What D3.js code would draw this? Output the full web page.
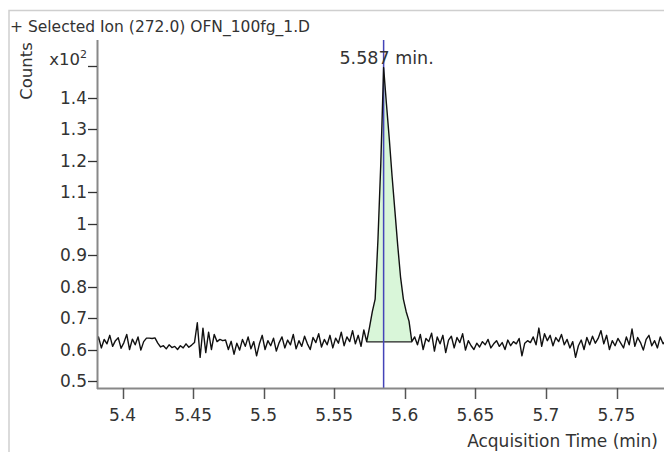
<!DOCTYPE html>
<html>
<head>
<meta charset="utf-8">
<script src="https://cdn.jsdelivr.net/npm/d3@7"></script>
<style>
  body { margin: 0; background: #fff; }
  text { font-family: "DejaVu Sans", Verdana, sans-serif; fill: #333; }
</style>
</head>
<body>
<script>
/* global d3 */

// Chromatogram: EIC 272.0, counts in units of 10^2
var title = '+ Selected Ion (272.0) OFN_100fg_1.D';
var scanStart = 5.379;   // min
var scanStep = 0.002;    // min between scans

var counts = [
  0.628, 0.612, 0.640, 0.605, 0.632, 0.618, 0.645, 0.610, 0.628, 0.637,
  0.604, 0.622, 0.648, 0.600, 0.633, 0.615, 0.640, 0.598, 0.625, 0.636,
  0.636, 0.635, 0.637, 0.620,
  0.608, 0.612, 0.602, 0.615, 0.606, 0.610, 0.600, 0.612, 0.605, 0.618,
  0.607, 0.614, 0.622,
  0.685, 0.575, 0.668, 0.590, 0.655, 0.600, 0.648, 0.625, 0.632,
  0.628, 0.630, 0.600, 0.626, 0.585,
  0.620, 0.598, 0.632, 0.610, 0.640, 0.602, 0.625, 0.580, 0.618, 0.645,
  0.600, 0.628, 0.612, 0.636, 0.595, 0.622, 0.640, 0.605, 0.630, 0.615,
  0.648, 0.602,
  0.628, 0.610, 0.642, 0.618, 0.600, 0.638, 0.622, 0.650, 0.608, 0.632,
  0.615, 0.645, 0.605, 0.636, 0.620, 0.655, 0.612, 0.640, 0.625, 0.660,
  0.618, 0.645, 0.610, 0.662,
  // peak
  0.625, 0.670, 0.720, 0.760, 0.950, 1.190, 1.495, 1.380, 1.270, 1.150,
  1.040, 0.930, 0.830, 0.760, 0.720, 0.690, 0.625,
  // after peak
  0.640, 0.615, 0.648, 0.600, 0.635, 0.625, 0.652, 0.595, 0.640, 0.618,
  0.645, 0.590, 0.630, 0.642, 0.605, 0.638, 0.622, 0.650, 0.598, 0.628,
  0.612, 0.600, 0.620, 0.608, 0.625, 0.615, 0.632, 0.605, 0.618, 0.628,
  0.610, 0.622, 0.600, 0.630, 0.612, 0.625, 0.618, 0.635, 0.580, 0.620,
  0.628,
  0.622, 0.640, 0.615, 0.668, 0.610, 0.650, 0.628, 0.645, 0.612, 0.638,
  0.625, 0.648, 0.615, 0.632, 0.605, 0.625,
  0.575, 0.612, 0.630, 0.600, 0.638, 0.615, 0.642, 0.620, 0.635, 0.660,
  0.618, 0.645, 0.600, 0.628, 0.612, 0.635,
  0.620, 0.605, 0.640, 0.615, 0.665, 0.610, 0.638, 0.622, 0.598, 0.632,
  0.645, 0.612, 0.628, 0.605, 0.640, 0.618, 0.630, 0.622
];

var peakLabel = '5.587 min.';
var integStart = 5.573, integEnd = 5.605, integBase = 0.624;

var xTicks = [5.4, 5.45, 5.5, 5.55, 5.6, 5.65, 5.7, 5.75];
var xTickLabels = ['5.4', '5.45', '5.5', '5.55', '5.6', '5.65', '5.7', '5.75'];
var yTicks = [0.5, 0.6, 0.7, 0.8, 0.9, 1.0, 1.1, 1.2, 1.3, 1.4, 1.5];
var yTickLabels = ['0.5', '0.6', '0.7', '0.8', '0.9', '1', '1.1', '1.2', '1.3', '1.4', ''];

var W = 664, H = 452;
var plot = {left: 97, right: 664, top: 40, bottom: 388};

var points = counts.map(function(c, i){ return {t: scanStart + i * scanStep, c: c}; });
var apex = points[d3.maxIndex(points, function(d){ return d.c; })];

var x = d3.scaleLinear().domain([5.4, 5.75]).range([122.5, 616.5]);
var y = d3.scaleLinear().domain([0.5, 1.5]).range([381, 66]);

var svg = d3.select('body').append('svg')
            .attr('width', W)
            .attr('height', H);

// outer frame (top + left)
svg.append('path')
  .attr('d', 'M9,' + H + 'V10.5H' + W)
  .style('fill', 'none')
  .style('stroke', '#cfcfcf')
  .style('stroke-width', 1.5);

svg.append('text')
  .attr('x', 10)
  .attr('y', 32)
  .style('font-size', '15.5px')
  .text(title);

svg.append('defs').append('clipPath')
  .attr('id', 'clip')
  .append('rect')
    .attr('x', plot.left)
    .attr('y', plot.top)
    .attr('width', plot.right - plot.left)
    .attr('height', plot.bottom - plot.top);

var g = svg.append('g').attr('clip-path', 'url(#clip)');

// integrated area
var peakPts = points.filter(function(d){ return d.t >= integStart - 1e-6 && d.t <= integEnd + 1e-6; });

g.append('path')
  .datum(peakPts)
  .attr('d', d3.area()
    .x(function(d){ return x(d.t); })
    .y0(y(integBase))
    .y1(function(d){ return y(d.c); }))
  .style('fill', '#d9f6d9')
  .style('stroke', 'none');

g.append('line')
  .attr('x1', x(integStart))
  .attr('x2', x(integEnd))
  .attr('y1', y(integBase))
  .attr('y2', y(integBase))
  .style('stroke', '#222')
  .style('stroke-width', 1.3);

// retention time marker
g.append('line')
  .attr('x1', x(apex.t))
  .attr('x2', x(apex.t))
  .attr('y1', plot.top)
  .attr('y2', plot.bottom)
  .style('stroke', '#4444b8')
  .style('stroke-width', 1.5);

// trace
g.append('path')
  .datum(points)
  .attr('d', d3.line()
    .x(function(d){ return x(d.t); })
    .y(function(d){ return y(d.c); }))
  .style('fill', 'none')
  .style('stroke', '#111')
  .style('stroke-width', 1.4)
  .style('stroke-linejoin', 'round');

svg.append('text')
  .attr('x', x(apex.t) + 3)
  .attr('y', 64)
  .style('font-size', '17.5px')
  .style('text-anchor', 'middle')
  .text(peakLabel);

// y axis
var yAxis = svg.append('g');

yAxis.append('line')
  .attr('x1', plot.left + 0.5)
  .attr('x2', plot.left + 0.5)
  .attr('y1', plot.top)
  .attr('y2', plot.bottom + 1)
  .style('stroke', '#888')
  .style('stroke-width', 2);

yAxis.selectAll('line.tick')
  .data(yTicks)
  .enter()
  .append('line')
    .attr('class', 'tick')
    .attr('x1', 88)
    .attr('x2', plot.left)
    .attr('y1', function(d){ return Math.round(y(d)) + 0.5; })
    .attr('y2', function(d){ return Math.round(y(d)) + 0.5; })
    .style('stroke', '#333')
    .style('stroke-width', 1.3);

yAxis.selectAll('text')
  .data(yTicks)
  .enter()
  .append('text')
    .attr('x', 87)
    .attr('y', function(d){ return y(d); })
    .attr('dy', '0.36em')
    .style('font-size', '17px')
    .style('text-anchor', 'end')
    .text(function(d, i){ return yTickLabels[i]; });

var mult = svg.append('text')
  .attr('x', 87)
  .attr('y', 65)
  .style('font-size', '16.5px')
  .style('text-anchor', 'end');
mult.append('tspan').text('x10');
mult.append('tspan')
  .attr('dy', -7)
  .style('font-size', '11px')
  .text('2');

svg.append('text')
  .attr('transform', 'translate(32,71) rotate(-90)')
  .style('font-size', '16.5px')
  .style('text-anchor', 'middle')
  .text('Counts');

// x axis
var xAxis = svg.append('g');

xAxis.append('line')
  .attr('x1', plot.left)
  .attr('x2', plot.right)
  .attr('y1', plot.bottom + 0.5)
  .attr('y2', plot.bottom + 0.5)
  .style('stroke', '#888')
  .style('stroke-width', 2);

xAxis.selectAll('line.tick')
  .data(xTicks)
  .enter()
  .append('line')
    .attr('class', 'tick')
    .attr('x1', function(d){ return Math.round(x(d)) + 0.5; })
    .attr('x2', function(d){ return Math.round(x(d)) + 0.5; })
    .attr('y1', plot.bottom)
    .attr('y2', plot.bottom + 11)
    .style('stroke', '#555')
    .style('stroke-width', 1.5);

xAxis.selectAll('text')
  .data(xTicks)
  .enter()
  .append('text')
    .attr('x', function(d){ return x(d); })
    .attr('y', 421)
    .style('font-size', '17px')
    .style('text-anchor', 'middle')
    .text(function(d, i){ return xTickLabels[i]; });

svg.append('text')
  .attr('x', 658)
  .attr('y', 447)
  .style('font-size', '17px')
  .style('text-anchor', 'end')
  .text('Acquisition Time (min)');
</script>
</body>
</html>
